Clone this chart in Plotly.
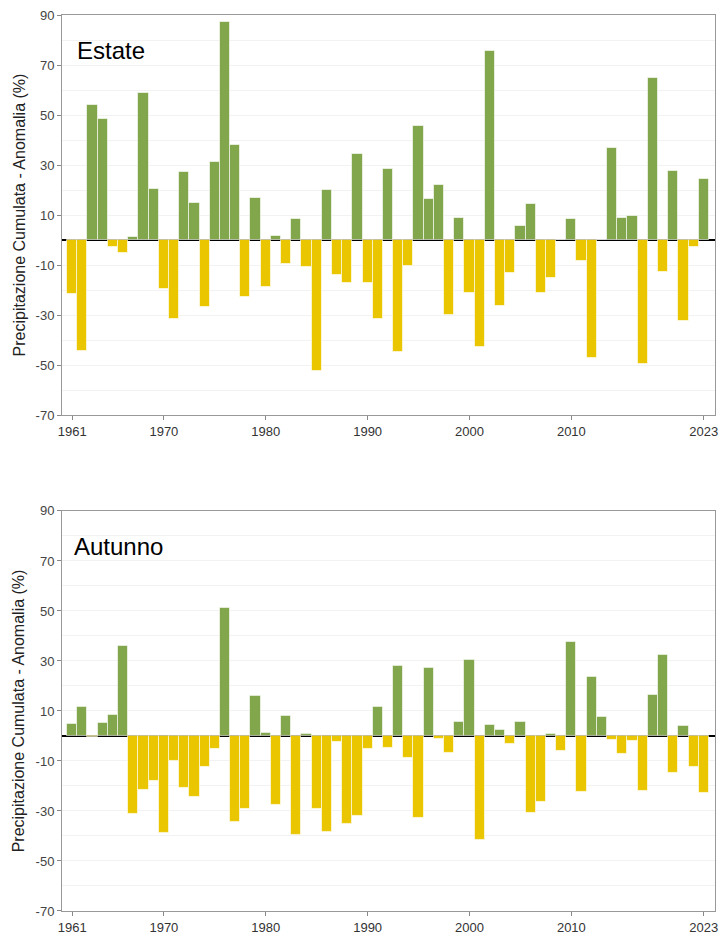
import plotly.graph_objects as go
from plotly.subplots import make_subplots

years = list(range(1961, 2024))

estate = [-21.7, -44.3, 54.0, 48.5, -2.8, -5.3, 1.1, 59.0, 20.3, -19.5,
          -31.6, 27.2, 14.7, -26.9, 31.1, 87.1, 38.0, -22.7, 16.7, -18.9,
          1.6, -9.6, 8.3, -10.7, -52.3, 20.0, -14.0, -17.3, 34.4, -17.3,
          -31.6, 28.4, -44.9, -10.4, 45.6, 16.3, 22.0, -29.9, 8.9, -21.3,
          -42.7, 75.7, -26.3, -13.3, 5.5, 14.4, -21.1, -15.3, 0.0, 8.3,
          -8.5, -47.3, 0.0, 36.7, 8.8, 9.6, -49.6, 64.7, -12.7, 27.6,
          -32.3, -2.7, 24.4]

autunno = [4.8, 11.7, -0.5, 5.2, 8.4, 36.0, -31.2, -21.4, -17.8, -38.7,
           -9.9, -20.9, -24.2, -12.5, -5.3, 51.1, -34.5, -29.2, 16.1, 1.1,
           -27.7, 7.9, -39.7, 0.8, -29.3, -38.3, -2.4, -35.3, -32.0, -5.3,
           11.7, -4.8, 28.0, -8.9, -32.8, 27.3, -1.3, -6.8, 5.5, 30.5,
           -41.7, 4.5, 2.4, -3.3, 5.6, -30.6, -26.4, 0.8, -6.1, 37.8,
           -22.5, 23.8, 7.6, -1.6, -7.2, -2.0, -22.1, 16.4, 32.4, -14.6,
           3.9, -12.5, -22.6]

titles = ["Estate", "Autunno"]
tick_years = [1961, 1970, 1980, 1990, 2000, 2010, 2023]
y_ticks = [-70, -50, -30, -10, 10, 30, 50, 70, 90]
GREEN = "#82A64B"
YELLOW = "#EAC600"
ylabel = "Precipitazione Cumulata - Anomalia (%)"
FONT = "Liberation Sans, Arial"

fig = make_subplots(rows=2, cols=1, vertical_spacing=0.107)

for i, vals in enumerate([estate, autunno], start=1):
    colors = [GREEN if v >= 0 else YELLOW for v in vals]
    fig.add_trace(go.Bar(x=years, y=vals, marker=dict(color=colors,
                         line=dict(color="rgba(255,255,255,0.6)", width=1)),
                         showlegend=False, hoverinfo="x+y"), row=i, col=1)
    fig.update_xaxes(range=[1960.0, 2024.1], tickvals=tick_years,
                     ticktext=[str(y) for y in tick_years],
                     ticks="outside", ticklen=4, tickcolor="#888",
                     showline=True, linecolor="#999", linewidth=1, mirror=True,
                     showgrid=False, zeroline=False,
                     tickfont=dict(family=FONT, size=13, color="#333"),
                     row=i, col=1)
    fig.update_yaxes(range=[-70, 90], tickvals=y_ticks,
                     ticktext=[str(v) for v in y_ticks],
                     ticks="outside", ticklen=4, tickcolor="#888",
                     showline=True, linecolor="#999", linewidth=1, mirror=True,
                     showgrid=True, gridcolor="#F2F2F2", gridwidth=1,
                     minor=dict(dtick=10, tick0=-70, showgrid=True, gridcolor="#F2F2F2"),
                     zeroline=True, zerolinecolor="#000", zerolinewidth=1.5,
                     title=dict(text=ylabel, standoff=6,
                                font=dict(family=FONT, size=16, color="#222")),
                     tickfont=dict(family=FONT, size=13, color="#444"),
                     row=i, col=1)

fig.add_annotation(text=titles[0], xref="x domain", yref="y domain", x=0.02, y=0.95,
                   xanchor="left", yanchor="top", showarrow=False,
                   font=dict(family=FONT, size=24, color="#000"))
fig.add_annotation(text=titles[1], xref="x2 domain", yref="y2 domain", x=0.016, y=0.95,
                   xanchor="left", yanchor="top", showarrow=False,
                   font=dict(family=FONT, size=24, color="#000"))

fig.update_layout(width=724, height=941, bargap=0.0,
                  margin=dict(l=62, r=6, t=15, b=29),
                  plot_bgcolor="white", paper_bgcolor="white",
                  font=dict(family=FONT))

fig.write_html("out.html", config={"displayModeBar": False},
               post_script="document.body.style.margin='0';")
